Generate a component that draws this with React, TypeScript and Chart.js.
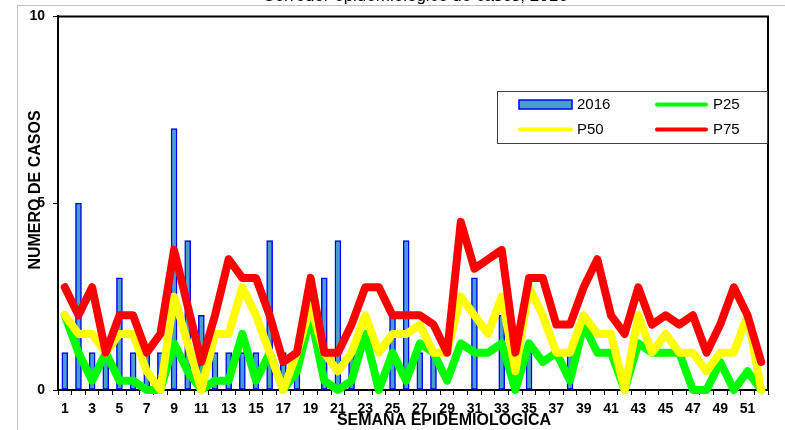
import React, { useEffect, useRef } from "react";
import { Chart, registerables } from "chart.js";

Chart.register(...registerables);

// Epidemiological weeks 1..52
const weeks = Array.from({ length: 52 }, (_, i) => String(i + 1));

// Cases reported in 2016 per week
const cases2016 = [
  1, 5, 1, 1, 3, 1, 1, 1, 7, 4, 2, 1, 1, 1, 1, 4, 1, 1, 0, 3, 4, 1, 0, 0, 2, 4,
  1, 1, 0, 0, 3, 0, 2, 0, 1, 0, 0, 1, 0, 0, 0, 0, 0, 0, 0, 0, 0, 0, 0, 0, 0, 0,
];

// Historical percentiles
const p25 = [
  2, 1, 0.25, 1, 0.25, 0.25, 0, 0, 1.25, 0.5, 0, 0.25, 0.25, 1.5, 0.25, 1, 0,
  0.5, 2, 0.25, 0, 0.25, 1.5, 0, 1, 0.25, 1.25, 1, 0.25, 1.25, 1, 1, 1.25, 0,
  1.25, 0.75, 1, 0.25, 1.75, 1, 1, 0, 1.25, 1, 1, 1, 0, 0, 0.75, 0, 0.5, 0,
];
const p50 = [
  2, 1.5, 1.5, 1, 1.5, 1.5, 0.5, 0, 2.5, 1.25, 0, 1.5, 1.5, 2.75, 2, 1, 0, 1,
  2.25, 1, 0.5, 1, 2, 1, 1.5, 1.5, 1.75, 1, 1, 2.5, 2, 1.5, 2.5, 0.5, 2.75, 2,
  1, 1, 2, 1.5, 1.5, 0, 2, 1, 1.5, 1, 1, 0.5, 1, 1, 2, 0,
];
const p75 = [
  2.75, 2, 2.75, 1, 2, 2, 1, 1.5, 3.75, 2.25, 0.75, 2, 3.5, 3, 3, 2, 0.75, 1, 3,
  1, 1, 1.75, 2.75, 2.75, 2, 2, 2, 1.75, 1, 4.5, 3.25, 3.5, 3.75, 1, 3, 3, 1.75,
  1.75, 2.75, 3.5, 2, 1.5, 2.75, 1.75, 2, 1.75, 2, 1, 1.75, 2.75, 2, 0.75,
];

const yTickValues = [0, 5, 10];

const FONT = "'Liberation Sans', Arial, Helvetica, sans-serif";
const BAR_FILL = "#46a0c8";
const BAR_EDGE = "#0000ff";
const GREEN = "#00ff00";
const YELLOW = "#ffff00";
const RED = "#ff0000";

const chartTitle = "Corredor epidemiológico de casos, 2016";

// Background, outer frame, title and the top/right plot border
const framePlugin = {
  id: "frame",
  beforeDraw(chart: any) {
    const { ctx, width, height } = chart;
    ctx.save();
    ctx.fillStyle = "#ffffff";
    ctx.fillRect(0, 0, width, height);
    ctx.strokeStyle = "#c0c0c0";
    ctx.lineWidth = 1;
    ctx.strokeRect(17.5, 5.5, width + 40, height + 40);
    ctx.fillStyle = "#000000";
    ctx.font = `17px ${FONT}`;
    ctx.textAlign = "center";
    ctx.textBaseline = "alphabetic";
    ctx.fillText(chartTitle, 415, 0.5);
    ctx.restore();
  },
  beforeDatasetsDraw(chart: any) {
    const { ctx, chartArea } = chart;
    ctx.save();
    ctx.strokeStyle = "#000000";
    ctx.lineWidth = 2;
    ctx.beginPath();
    ctx.moveTo(chartArea.left, chartArea.top);
    ctx.lineTo(chartArea.right, chartArea.top);
    ctx.lineTo(chartArea.right, chartArea.bottom);
    ctx.stroke();
    ctx.restore();
  },
  afterDraw(chart: any) {
    const { ctx } = chart;
    ctx.save();
    ctx.fillStyle = "#000000";
    ctx.font = `bold 16px ${FONT}`;
    ctx.textAlign = "center";
    ctx.textBaseline = "middle";
    ctx.fillText("SEMANA EPIDEMIOLOGICA", 444, 421);
    ctx.translate(36, 190);
    ctx.rotate(-Math.PI / 2);
    ctx.fillText("NUMERO DE CASOS", 0, 0);
    ctx.restore();
  },
};

// Boxed two-column legend inside the plot
const legendPlugin = {
  id: "boxLegend",
  afterDraw(chart: any) {
    const { ctx } = chart;
    ctx.save();
    ctx.fillStyle = "#ffffff";
    ctx.fillRect(497.5, 91.5, 270, 52);
    ctx.strokeStyle = "#404040";
    ctx.lineWidth = 1;
    ctx.strokeRect(497.5, 91.5, 270, 52);

    ctx.fillStyle = BAR_FILL;
    ctx.fillRect(519, 100, 53, 9);
    ctx.strokeStyle = BAR_EDGE;
    ctx.lineWidth = 1.5;
    ctx.strokeRect(519, 100, 53, 9);

    const lineItem = (x0: number, x1: number, y: number, color: string) => {
      ctx.strokeStyle = color;
      ctx.lineWidth = 4;
      ctx.lineCap = "round";
      ctx.beginPath();
      ctx.moveTo(x0, y);
      ctx.lineTo(x1, y);
      ctx.stroke();
    };
    lineItem(657, 706, 104.5, GREEN);
    lineItem(520, 571, 129.5, YELLOW);
    lineItem(657, 706, 129.5, RED);

    ctx.fillStyle = "#000000";
    ctx.font = `15px ${FONT}`;
    ctx.textAlign = "left";
    ctx.textBaseline = "middle";
    ctx.fillText("2016", 577, 105);
    ctx.fillText("P25", 713, 105);
    ctx.fillText("P50", 577, 130);
    ctx.fillText("P75", 713, 130);
    ctx.restore();
  },
};

const lineDataset = (label: string, data: number[], color: string, order: number) => ({
  type: "line" as const,
  label,
  data,
  borderColor: color,
  backgroundColor: color,
  borderWidth: 8,
  borderJoinStyle: "round" as const,
  borderCapStyle: "round" as const,
  pointRadius: 0,
  tension: 0,
  fill: false,
  clip: false as const,
  order,
});

export default function App() {
  const canvasRef = useRef<HTMLCanvasElement>(null);

  useEffect(() => {
    const canvas = canvasRef.current;
    if (!canvas) return;
    const chart = new Chart(canvas, {
      type: "bar",
      data: {
        labels: weeks,
        datasets: [
          lineDataset("P75", p75, RED, 1),
          lineDataset("P50", p50, YELLOW, 2),
          lineDataset("P25", p25, GREEN, 3),
          {
            type: "bar",
            label: "2016",
            data: cases2016,
            backgroundColor: BAR_FILL,
            borderColor: BAR_EDGE,
            borderWidth: 1.5,
            borderSkipped: false,
            barThickness: 6,
            order: 4,
          },
        ] as any,
      },
      options: {
        responsive: false,
        animation: false,
        devicePixelRatio: 1,
        layout: { padding: { top: 15, right: 17, left: 0, bottom: 0 } },
        plugins: {
          legend: { display: false },
          tooltip: { enabled: false },
          title: { display: false },
        },
        scales: {
          x: {
            type: "category",
            offset: true,
            afterFit: (scale: any) => {
              scale.height = 40;
            },
            grid: {
              offset: true,
              drawOnChartArea: false,
              drawTicks: true,
              tickLength: 5,
              color: "#000000",
            },
            border: { display: true, color: "#000000", width: 2 },
            ticks: {
              autoSkip: false,
              maxRotation: 0,
              minRotation: 0,
              padding: 6,
              color: "#000000",
              font: { family: FONT, size: 14, weight: "bold" },
              callback: (_v: any, i: number) => (i % 2 === 0 ? weeks[i] : ""),
            },
          },
          y: {
            min: 0,
            max: 10,
            afterFit: (scale: any) => {
              scale.width = 58;
            },
            afterBuildTicks: (scale: any) => {
              scale.ticks = yTickValues.map((v) => ({ value: v }));
            },
            grid: {
              drawOnChartArea: false,
              drawTicks: true,
              tickLength: 5,
              color: "#000000",
            },
            border: { display: true, color: "#000000", width: 2 },
            ticks: {
              padding: 8,
              color: "#000000",
              font: { family: FONT, size: 14, weight: "bold" },
            },
          },
        },
      } as any,
      plugins: [framePlugin, legendPlugin],
    });
    return () => chart.destroy();
  }, []);

  return (
    <div style={{ position: "absolute", left: 0, top: 0, width: 785, height: 430, background: "#ffffff" }}>
      <canvas ref={canvasRef} width={785} height={430} style={{ display: "block" }} />
    </div>
  );
}
